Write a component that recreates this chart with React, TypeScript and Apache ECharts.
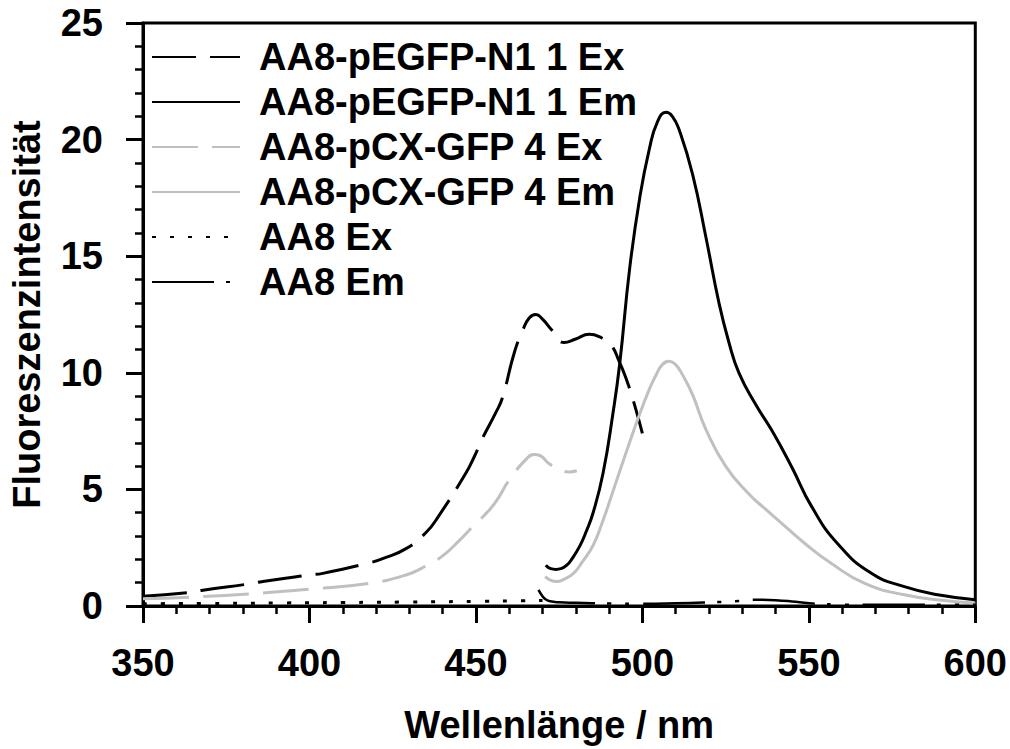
import React, { useEffect, useRef } from "react";
import * as echarts from "echarts";

// ---- Data ----
const seriesNames = [
  "AA8-pEGFP-N1 1 Ex",
  "AA8-pEGFP-N1 1 Em",
  "AA8-pCX-GFP 4 Ex",
  "AA8-pCX-GFP 4 Em",
  "AA8 Ex",
  "AA8 Em",
];

const egfpExX = [350, 364, 368, 382, 386, 400, 404, 418, 422, 429, 435, 439, 447, 449.5, 452, 456, 458, 461.5, 464, 466, 468, 470, 473, 476.5, 480, 484, 487, 490.5, 493, 495, 497.5, 500];
const egfpExY = [0.42, 0.58, 0.68, 0.95, 1.05, 1.33, 1.4, 1.85, 2.03, 2.46, 3.15, 3.9, 5.7, 6.4, 7.2, 8.3, 8.95, 10.85, 11.8, 12.35, 12.5, 12.3, 11.8, 11.3, 11.45, 11.65, 11.55, 11.2, 10.5, 9.8, 8.7, 7.4];

const egfpEmX = [471, 472.5, 474, 475.5, 477.3, 479, 481.3, 483, 485.2, 488.2, 491.2, 493.2, 496.2, 499.2, 502.1, 504.5, 507.1, 509, 511.1, 515.1, 519.1, 523, 526, 529, 534, 539, 544.9, 550.9, 558.8, 568.8, 578.7, 588.7, 600];
const egfpEmY = [1.75, 1.6, 1.57, 1.6, 1.75, 2.05, 2.6, 3.15, 4.0, 5.7, 8.3, 10.4, 14.5, 17.5, 19.6, 20.75, 21.17, 21.0, 20.4, 18.5, 15.8, 13.0, 11.3, 10.0, 8.65, 7.5, 5.95, 4.25, 2.65, 1.4, 0.83, 0.48, 0.27];

const pcxExX = [350, 364, 382, 400, 418, 429, 435, 440, 445.5, 449, 452.4, 455.9, 460, 465.4, 467.5, 469.3, 472, 475.3, 478, 480.3];
const pcxExY = [0.31, 0.38, 0.52, 0.72, 0.97, 1.33, 1.72, 2.15, 2.88, 3.4, 3.87, 4.45, 5.4, 6.34, 6.5, 6.45, 6.1, 5.85, 5.75, 5.8];

const pcxEmX = [470.8, 472.5, 474.3, 476.5, 479.3, 482, 485.2, 488, 491.2, 495.2, 498.7, 502.1, 504.1, 506, 508.1, 510, 512.1, 515.1, 519, 525, 532, 537, 541, 548.9, 556.8, 566.8, 578.7, 590, 600];
const pcxEmY = [1.26, 1.1, 1.05, 1.15, 1.4, 1.9, 2.6, 3.6, 4.93, 6.62, 8.04, 9.3, 9.9, 10.35, 10.5, 10.35, 9.9, 9.05, 7.6, 6.0, 4.8, 4.15, 3.65, 2.67, 1.82, 0.97, 0.48, 0.25, 0.13];

const aa8ExX = [350, 370, 390, 410, 430, 450, 460, 470];
const aa8ExY = [0.1, 0.11, 0.13, 0.15, 0.17, 0.2, 0.22, 0.24];

const aa8EmX = [468.8, 470, 471, 472.3, 475, 480, 490, 500, 510, 520, 529, 534, 540, 546, 552, 560, 570, 580, 590, 600];
const aa8EmY = [0.69, 0.42, 0.28, 0.2, 0.16, 0.14, 0.11, 0.1, 0.12, 0.16, 0.21, 0.27, 0.25, 0.18, 0.1, 0.06, 0.05, 0.05, 0.05, 0.05];

const xTicks = { min: 350, max: 600, interval: 50 };
const yTicks = { min: 0, max: 25, interval: 5 };

const zip = (xs: number[], ys: number[]) => xs.map((x, i) => [x, ys[i]]);

const FONT = "Arial, 'Liberation Sans', sans-serif";
const GRAY = "#c0c0c0";
const FS = 38;

export default function App() {
  const ref = useRef<HTMLDivElement>(null);
  useEffect(() => {
    if (!ref.current) return;
    const chart = echarts.init(ref.current, undefined, { renderer: "svg" });
    const mk = (name: string, xs: number[], ys: number[], color: string, type: any, width: number) => ({
      name,
      type: "line",
      data: zip(xs, ys),
      showSymbol: false,
      symbol: "none",
      smooth: 0.5,
      lineStyle: { color, width, type },
      itemStyle: { color },
    });
    const txt = { fontSize: FS, fontWeight: "bold", fontFamily: FONT, color: "#000" };
    chart.setOption({
      animation: false,
      grid: {
        left: 140,
        right: 32,
        top: 23,
        bottom: 136,
        show: true,
        borderColor: "#000",
        borderWidth: 3,
      },
      legend: {
        data: seriesNames,
        orient: "vertical",
        left: 146,
        top: 33,
        itemWidth: 88,
        itemHeight: 20,
        itemGap: 7,
        selectedMode: false,
        itemStyle: { opacity: 0, color: "rgba(0,0,0,0)", borderWidth: 0 },
        textStyle: { ...txt, lineHeight: 37, padding: [0, 0, 0, 14] },
      },
      xAxis: {
        type: "value",
        min: xTicks.min,
        max: xTicks.max,
        interval: xTicks.interval,
        name: "Wellenlänge / nm",
        nameLocation: "middle",
        nameGap: 100,
        nameTextStyle: txt,
        axisLine: { show: true, lineStyle: { color: "#000", width: 3 } },
        axisTick: { show: true, inside: false, length: 17, lineStyle: { color: "#000", width: 3 } },
        minorTick: { show: true, splitNumber: 5, length: 8, lineStyle: { color: "#000", width: 2.5 } },
        splitLine: { show: false },
        axisLabel: { ...txt, margin: 38 },
      },
      yAxis: {
        type: "value",
        min: yTicks.min,
        max: yTicks.max,
        interval: yTicks.interval,
        name: "Fluoreszenzintensität",
        nameLocation: "middle",
        nameGap: 97,
        nameTextStyle: txt,
        axisLine: { show: true, lineStyle: { color: "#000", width: 3 } },
        axisTick: { show: true, inside: false, length: 17, lineStyle: { color: "#000", width: 3 } },
        minorTick: { show: true, splitNumber: 5, length: 8, lineStyle: { color: "#000", width: 2.5 } },
        splitLine: { show: false },
        axisLabel: { ...txt, margin: 40 },
      },
      series: [
        mk(seriesNames[0], egfpExX, egfpExY, "#000", [44, 14], 3),
        mk(seriesNames[1], egfpEmX, egfpEmY, "#000", "solid", 3),
        mk(seriesNames[2], pcxExX, pcxExY, GRAY, [46, 14], 3),
        mk(seriesNames[3], pcxEmX, pcxEmY, GRAY, "solid", 3),
        mk(seriesNames[4], aa8ExX, aa8ExY, "#000", [4, 14], 3),
        mk(seriesNames[5], aa8EmX, aa8EmY, "#000", [62, 12, 4, 14, 4, 14], 2.5),
      ],
    });
    return () => chart.dispose();
  }, []);
  return (
    <div
      ref={ref}
      style={{ position: "fixed", left: 0, top: 0, width: 1010, height: 749, background: "#fff" }}
    />
  );
}
